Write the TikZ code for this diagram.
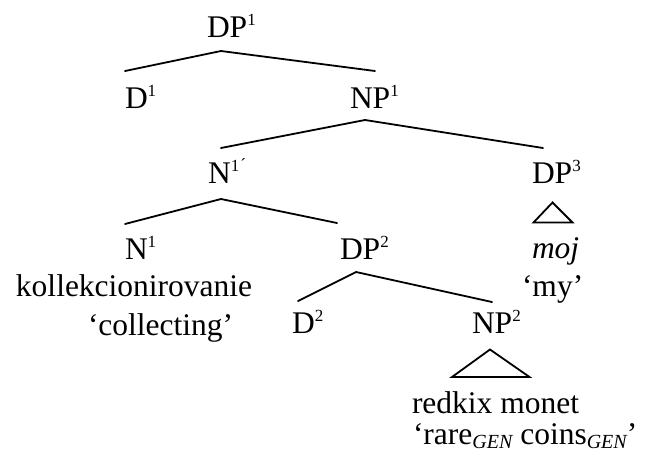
\documentclass[tikz,border=0pt]{standalone}
\usepackage{fontspec}
\setmainfont{Liberation Serif}
\newcommand\supix[1]{\raisebox{12pt}{\fontsize{17}{17}\selectfont #1}}
\newcommand\subgen{\raisebox{-4pt}{\fontsize{20}{20}\selectfont\itshape GEN}}
\begin{document}
\begin{tikzpicture}[x=1pt,y=1pt,
  lab/.style={anchor=base west,inner sep=0pt,outer sep=0pt,font=\fontsize{31.5}{36}\selectfont},
  branch/.style={line width=1.8pt,line cap=round,line join=miter}]
\useasboundingbox (0,0) rectangle (648,-453);
% labels
\node[lab] (dp1) at (207,-37) {DP\supix{1}};
\node[lab] (d1) at (125,-108) {D\supix{1}};
\node[lab] (np1) at (350,-108) {NP\supix{1}};
\node[lab] (nbar) at (208,-183) {N\supix{1\kern1pt\raisebox{1pt}{´}}};
\node[lab] (dp3) at (532,-183) {DP\supix{3}};
\node[lab] (n1) at (125,-259) {N\supix{1}};
\node[lab] (dp2) at (340,-259) {DP\supix{2}};
\node[lab] (moj) at (532,-258) {\itshape moj};
\node[lab] (koll) at (16,-296) {kollekcionirovanie};
\node[lab] (my) at (522,-296) {‘my’};
\node[lab] (coll) at (88,-335) {‘collecting’};
\node[lab] (d2) at (292,-333) {D\supix{2}};
\node[lab] (np2) at (472,-333) {NP\supix{2}};
\node[lab] (redk) at (412,-413) {redkix monet};
\node[lab] (rare) at (413,-444) {‘rare\subgen{} coins\subgen’};
% branch points
\coordinate (a1) at (221,-51);
\coordinate (a1l) at (125,-71);
\coordinate (a1r) at (375,-71);
\coordinate (a2) at (365,-120);
\coordinate (a2l) at (221,-148);
\coordinate (a2r) at (543,-148);
\coordinate (a3) at (221,-199);
\coordinate (a3l) at (125,-224);
\coordinate (a3r) at (337,-223);
\coordinate (a4) at (356,-272);
\coordinate (a4l) at (298,-301);
\coordinate (a4r) at (492,-302);
\coordinate (t1) at (552.5,-202.5);
\coordinate (t1l) at (533.5,-222.5);
\coordinate (t1r) at (572.5,-222.5);
\coordinate (t2) at (490,-349.5);
\coordinate (t2l) at (452,-377);
\coordinate (t2r) at (529.5,-377);
% branches
\draw[branch] (a1l) -- (a1) -- (a1r);
\draw[branch] (a2l) -- (a2) -- (a2r);
\draw[branch] (a3l) -- (a3) -- (a3r);
\draw[branch] (a4l) -- (a4) -- (a4r);
\draw[branch] (t1l) -- (t1) -- (t1r) -- cycle;
\draw[branch] (t2l) -- (t2) -- (t2r) -- cycle;
\end{tikzpicture}
\end{document}
